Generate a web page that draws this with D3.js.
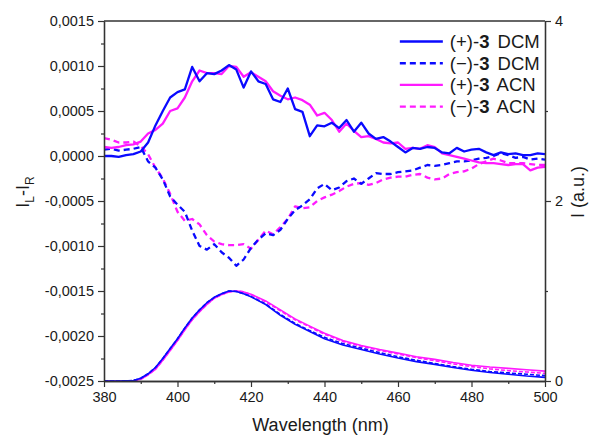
<!DOCTYPE html>
<html>
<head>
<meta charset="utf-8">
<script src="https://cdn.jsdelivr.net/npm/d3@7"></script>
<style>
body { margin: 0; background: #fff; }
text { font-family: Arial, "Liberation Sans", sans-serif; fill: #1a1a1a; }
</style>
</head>
<body>
<div id="chart"></div>
<script>
// wavelengths of the CD spectra (nm)
var cdWl = [380, 382, 384, 386, 388, 390, 392, 394, 396, 398, 400, 402, 404, 406, 408, 410,
  412, 414, 416, 418, 420, 422, 424, 426, 428, 430, 432, 434, 436, 438, 440, 442, 444, 446,
  448, 450, 452, 454, 456, 458, 460, 462, 464, 466, 468, 470, 472, 474, 476, 478, 480, 482,
  484, 486, 488, 490, 492, 494, 496, 498, 500];

// IL-IR values
var cdPlusDCM = [0, 0, -0.00001, 0.00001, 0.00002, 0.00005, 0.00015, 0.00034, 0.0005, 0.00065,
  0.00071, 0.00074, 0.00099, 0.00083, 0.00092, 0.00091, 0.00095, 0.00101, 0.00096, 0.00076,
  0.00094, 0.00083, 0.0008, 0.00063, 0.0006, 0.00075, 0.00052, 0.00049, 0.00022, 0.00034,
  0.00033, 0.00037, 0.00031, 0.0004, 0.00027, 0.00037, 0.00025, 0.00019, 0.00021, 0.00016,
  0.0001, 0.00004, 0.00009, 0.00008, 0.0001, 0.00009, 0.00004, 0.00003, 0.00009, 0.00005,
  0.00007, 0.00008, 0.00004, 0.00001, 0.00004, 0.00002, 0.00003, 0.00001, 0.00001, 0.00003, 0.00002];

var cdMinusDCM = [0.00007, 0.00008, 0.00006, 0.00007, 0.00008, 0.0001, -0.00006, -0.00013,
  -0.00026, -0.00045, -0.00054, -0.00062, -0.00083, -0.001, -0.00104, -0.00098, -0.00107,
  -0.00113, -0.00122, -0.00115, -0.00102, -0.00093, -0.00086, -0.00088, -0.00082, -0.0007,
  -0.0006, -0.00055, -0.00048, -0.00036, -0.00031, -0.00038, -0.00035, -0.00028, -0.00025,
  -0.00031, -0.00025, -0.00019, -0.0002, -0.0002, -0.00018, -0.00017, -0.00016, -0.00013,
  -0.0001, -0.00011, -0.0001, -0.00008, -0.00006, -0.00006, -0.00005, -0.00003, -0.00002,
  0, 0.00003, 0.00001, -0.00002, -0.00001, -0.00004, -0.00003, -0.00004];

var cdPlusACN = [0.0001, 0.00009, 0.0001, 0.00012, 0.00013, 0.00016, 0.00025, 0.00029, 0.00036,
  0.0005, 0.00053, 0.00065, 0.00083, 0.00095, 0.00092, 0.00092, 0.00091, 0.001, 0.00099,
  0.00088, 0.00093, 0.00088, 0.00083, 0.00072, 0.00067, 0.00063, 0.00065, 0.00062, 0.00057,
  0.00045, 0.00048, 0.0004, 0.00027, 0.00036, 0.00028, 0.00021, 0.00022, 0.00019, 0.00015,
  0.00014, 0.00015, 0.00008, 0.00009, 0.00008, 0.00012, 0.0001, 0.00003, 0.00001, -0.00001,
  -0.00003, -0.00005, -0.00007, -0.00008, -0.00008, -0.00009, -0.0001, -0.00009, -0.00009,
  -0.00016, -0.00013, -0.00012];

var cdMinusACN = [0.0002, 0.00018, 0.00015, 0.00015, 0.00016, 0.00011, 0.00002, -0.00013,
  -0.00025, -0.00042, -0.00062, -0.00072, -0.0007, -0.00076, -0.00088, -0.00095, -0.00098,
  -0.00099, -0.00099, -0.00098, -0.00103, -0.00093, -0.00083, -0.00087, -0.00079, -0.0007,
  -0.00056, -0.00058, -0.00057, -0.0005, -0.00046, -0.00043, -0.00039, -0.00034, -0.00031,
  -0.0003, -0.00032, -0.0003, -0.00026, -0.00024, -0.00023, -0.00023, -0.00021, -0.0002,
  -0.00024, -0.00026, -0.00025, -0.0002, -0.00018, -0.00017, -0.00014, -0.00009, -0.00006,
  -0.00003, -0.00005, -0.00008, -0.00008, -0.00008, -0.00009, -0.0001, -0.0001];

// wavelengths of the emission spectra (nm)
var flWl = [380, 384, 388, 390, 392, 394, 396, 398, 400, 402, 404, 406, 408, 410, 412, 414,
  416, 418, 420, 424, 428, 432, 436, 440, 445, 450, 455, 460, 465, 470, 475, 480, 485, 490, 495, 500];

// emission intensity (a.u.)
var flPlusDCM = [0, 0, 0.005, 0.03, 0.08, 0.15, 0.25, 0.36, 0.47, 0.59, 0.7, 0.79, 0.87, 0.93,
  0.97, 1.0, 0.995, 0.97, 0.935, 0.85, 0.73, 0.63, 0.55, 0.47, 0.4, 0.35, 0.3, 0.255, 0.215,
  0.185, 0.15, 0.12, 0.095, 0.075, 0.055, 0.04];
var flMinusDCM = [0, 0, 0.005, 0.03, 0.08, 0.15, 0.25, 0.36, 0.47, 0.59, 0.7, 0.79, 0.87, 0.93,
  0.97, 1.0, 0.995, 0.97, 0.94, 0.855, 0.74, 0.64, 0.56, 0.485, 0.415, 0.365, 0.315, 0.27,
  0.23, 0.195, 0.16, 0.13, 0.105, 0.09, 0.075, 0.06];
var flPlusACN = [0, 0, 0.003, 0.02, 0.07, 0.13, 0.23, 0.34, 0.45, 0.57, 0.68, 0.77, 0.85, 0.92,
  0.96, 0.99, 1.0, 0.99, 0.965, 0.89, 0.79, 0.69, 0.61, 0.53, 0.45, 0.395, 0.35, 0.31, 0.27,
  0.24, 0.205, 0.175, 0.155, 0.14, 0.125, 0.11];
var flMinusACN = [0, 0, 0.003, 0.02, 0.07, 0.13, 0.23, 0.34, 0.45, 0.57, 0.68, 0.77, 0.85, 0.92,
  0.96, 0.99, 1.0, 0.99, 0.96, 0.88, 0.78, 0.68, 0.6, 0.52, 0.44, 0.385, 0.34, 0.3, 0.26,
  0.225, 0.19, 0.16, 0.135, 0.115, 0.1, 0.085];

// tick values
var xTicks = [380, 400, 420, 440, 460, 480, 500];
var xMinor = [390, 410, 430, 450, 470, 490];
var cdTicks = [-0.0025, -0.002, -0.0015, -0.001, -0.0005, 0, 0.0005, 0.001, 0.0015];
var cdMinor = [-0.00225, -0.00175, -0.00125, -0.00075, -0.00025, 0.00025, 0.00075, 0.00125];
var flTicks = [0, 2, 4];
var flMinor = [1, 3];

var legendLabels = [
  {sign: "(+)-", solvent: " DCM", color: "#0a0aff", dash: null},
  {sign: "(\u2212)-", solvent: " DCM", color: "#0a0aff", dash: "6,4"},
  {sign: "(+)-", solvent: " ACN", color: "#ff1aff", dash: null},
  {sign: "(\u2212)-", solvent: " ACN", color: "#ff1aff", dash: "6,4"}
];

//Setup the chart parameters
var svgWidth = 590;
var svgHeight = 437;
var margin = {top: 21, right: 45, bottom: 56, left: 104};
var width = svgWidth - margin.left - margin.right;
var height = svgHeight - margin.top - margin.bottom;

var svg = d3.select("#chart")
  .append("svg")
  .attr("width", svgWidth)
  .attr("height", svgHeight);

var chart = svg.append("g")
  .attr("transform", "translate(" + margin.left + "," + margin.top + ")");

// scales
var x = d3.scaleLinear().domain([380, 500]).range([0, width]);
var yCD = d3.scaleLinear().domain([-0.0025, 0.0015]).range([height, 0]);
var yFL = d3.scaleLinear().domain([0, 4]).range([height, 0]);

chart.append("clipPath")
  .attr("id", "clip")
  .append("rect")
  .attr("width", width)
  .attr("height", height);

var plot = chart.append("g").attr("clip-path", "url(#clip)");

function drawSeries(xs, ys, yScale, color, dash, w) {
  var line = d3.line()
    .x(function(d, i) { return x(xs[i]); })
    .y(function(d) { return yScale(d); });
  plot.append("path")
    .datum(ys)
    .attr("d", line)
    .attr("fill", "none")
    .attr("stroke", color)
    .attr("stroke-width", w)
    .attr("stroke-linejoin", "round")
    .attr("stroke-dasharray", dash);
}

// emission spectra
drawSeries(flWl, flPlusACN, yFL, legendLabels[2].color, null, 1.6);
drawSeries(flWl, flMinusACN, yFL, legendLabels[3].color, "4,2", 1.6);
drawSeries(flWl, flMinusDCM, yFL, legendLabels[1].color, "4,2", 1.6);
drawSeries(flWl, flPlusDCM, yFL, legendLabels[0].color, null, 1.6);

// CD spectra
drawSeries(cdWl, cdMinusACN, yCD, legendLabels[3].color, "6,4", 2.3);
drawSeries(cdWl, cdMinusDCM, yCD, legendLabels[1].color, "6,4", 2.3);
drawSeries(cdWl, cdPlusACN, yCD, legendLabels[2].color, null, 2.3);
drawSeries(cdWl, cdPlusDCM, yCD, legendLabels[0].color, null, 2.3);

// tick formatting with decimal comma
function commaFmt(v) {
  var s = Math.abs(v).toFixed(4).replace(".", ",");
  return (v < 0 ? "-" : "") + s;
}

// axes
var axisColor = "#333";
function styleAxis(g) {
  g.select(".domain").attr("stroke", axisColor).attr("stroke-width", 1.3);
  g.selectAll(".tick line").attr("stroke", axisColor).attr("stroke-width", 1.2);
  g.selectAll("text").attr("font-size", "14.5px").attr("fill", "#1a1a1a");
}

chart.append("g")
  .attr("transform", "translate(0," + height + ")")
  .call(d3.axisBottom(x).tickValues(xMinor).tickSize(3).tickSizeOuter(0).tickFormat(""))
  .call(styleAxis);
chart.append("g")
  .attr("transform", "translate(0," + height + ")")
  .call(d3.axisBottom(x).tickValues(xTicks).tickSize(6).tickSizeOuter(0).tickPadding(5).tickFormat(d3.format("d")))
  .call(styleAxis);

chart.append("g")
  .call(d3.axisLeft(yCD).tickValues(cdMinor).tickSize(3).tickSizeOuter(0).tickFormat(""))
  .call(styleAxis);
chart.append("g")
  .call(d3.axisLeft(yCD).tickValues(cdTicks).tickSize(6).tickSizeOuter(0).tickPadding(4).tickFormat(commaFmt))
  .call(styleAxis);

chart.append("g")
  .attr("transform", "translate(" + width + ",0)")
  .call(d3.axisRight(yFL).tickValues(flMinor).tickSize(3).tickSizeOuter(0).tickFormat(""))
  .call(styleAxis);
chart.append("g")
  .attr("transform", "translate(" + width + ",0)")
  .call(d3.axisRight(yFL).tickValues(flTicks).tickSize(6).tickSizeOuter(0).tickPadding(4).tickFormat(d3.format("d")))
  .call(styleAxis);

// top frame line
chart.append("line")
  .attr("x1", 0).attr("x2", width)
  .attr("y1", 0).attr("y2", 0)
  .attr("stroke", axisColor)
  .attr("stroke-width", 1.3);

// axis titles
chart.append("text")
  .attr("x", width / 2 - 4)
  .attr("y", height + 50)
  .attr("text-anchor", "middle")
  .attr("font-size", "18px")
  .text("Wavelength (nm)");

var yTitle = svg.append("text")
  .attr("transform", "translate(29," + (margin.top + yCD(-0.0004)) + ") rotate(-90)")
  .attr("text-anchor", "middle")
  .attr("font-size", "18px");
yTitle.append("tspan").text("I");
yTitle.append("tspan").attr("font-size", "12px").attr("dy", 5).text("L");
yTitle.append("tspan").attr("dy", -5).text("-I");
yTitle.append("tspan").attr("font-size", "12px").attr("dy", 5).text("R");

svg.append("text")
  .attr("transform", "translate(584," + (margin.top + yFL(2.1)) + ") rotate(-90)")
  .attr("text-anchor", "middle")
  .attr("font-size", "18px")
  .text("I (a.u.)");

// legend, top right inside the frame
var legend = chart.append("g")
  .attr("transform", "translate(" + x(460.5) + ",20.5)");

legendLabels.forEach(function(d, i) {
  var row = legend.append("g").attr("transform", "translate(0," + (i * 21.7) + ")");
  row.append("line")
    .attr("x1", 0).attr("x2", 43)
    .attr("y1", 0).attr("y2", 0)
    .attr("stroke", d.color)
    .attr("stroke-width", 2.4)
    .attr("stroke-dasharray", d.dash);
  var t = row.append("text")
    .attr("x", 50)
    .attr("y", 6.5)
    .attr("font-size", "18.5px");
  t.append("tspan").text(d.sign);
  t.append("tspan").attr("font-weight", "bold").text("3");
  t.append("tspan").attr("dx", 3).text(d.solvent);
});
</script>
</body>
</html>
